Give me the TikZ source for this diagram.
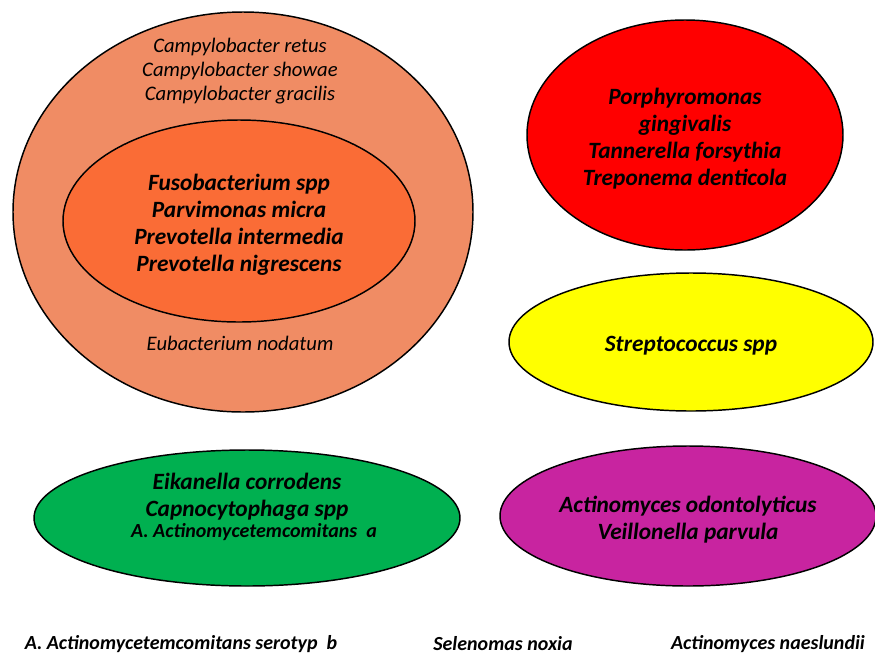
\documentclass[tikz,border=0pt]{standalone}
\usepackage{fontspec}
\setmainfont{Carlito}
\usetikzlibrary{shapes.geometric}
\definecolor{salmon}{RGB}{240,140,100}
\definecolor{orangered}{RGB}{250,108,54}
\definecolor{bacred}{RGB}{255,0,0}
\definecolor{bacyellow}{RGB}{255,255,0}
\definecolor{bacgreen}{RGB}{0,176,80}
\definecolor{bacmagenta}{RGB}{200,36,160}
\tikzset{
    complex/.style={ellipse,draw=black,line width=1.1pt,inner sep=0pt},
    bigname/.style={align=center,yshift=-2.5pt,font=\fontsize{17.5}{20.25}\selectfont\bfseries\itshape},
    smallname/.style={align=center,font=\fontsize{15.5}{18}\selectfont\itshape},
    outname/.style={align=center,font=\fontsize{15}{18}\selectfont\bfseries\itshape},
}
\begin{document}
\begin{tikzpicture}[x=0.75pt,y=-0.75pt]
    \useasboundingbox (0,0) rectangle (875,654);
    %% Ellipses
    \node[complex,fill=salmon,minimum width=345pt,minimum height=300pt] (outer) at (243,212) {};
    \node[complex,fill=orangered,minimum width=264pt,minimum height=151.5pt] (inner) at (239,221) {};
    \node[complex,fill=bacred,minimum width=237pt,minimum height=172.5pt] (red) at (685,135) {};
    \node[complex,fill=bacyellow,minimum width=273pt,minimum height=103.5pt] (yellow) at (691,342) {};
    \node[complex,fill=bacgreen,minimum width=319.5pt,minimum height=102pt] (green) at (247,518) {};
    \node[complex,fill=bacmagenta,minimum width=282pt,minimum height=105pt] (magenta) at (688,516) {};
    %% Species
    \node[smallname] (campy) at (240,71.5) {Campylobacter retus\\Campylobacter showae\\Campylobacter gracilis};
    \node[bigname] (fuso) at (inner) {Fusobacterium spp\\Parvimonas micra\\Prevotella intermedia\\Prevotella nigrescens};
    \node[smallname] (eubac) at (240,343) {Eubacterium nodatum};
    \node[bigname] (porph) at (red) {Porphyromonas\\gingivalis\\Tannerella forsythia\\Treponema denticola};
    \node[bigname] (strep) at (yellow) {Streptococcus spp};
    \node[bigname] (eika) at (247,493) {Eikanella corrodens\\Capnocytophaga spp};
    \node[outname] (aaa) at (254,532) {A. Actinomycetemcomitans~~a};
    \node[bigname] (actino) at (magenta) {Actinomyces odontolyticus\\Veillonella parvula};
    %% Outside
    \node[outname] (aab) at (181,644) {A. Actinomycetemcomitans serotyp~~b};
    \node[outname] (selen) at (503,644) {Selenomas noxia};
    \node[outname] (naes) at (768,644) {Actinomyces naeslundii};
\end{tikzpicture}
\end{document}
